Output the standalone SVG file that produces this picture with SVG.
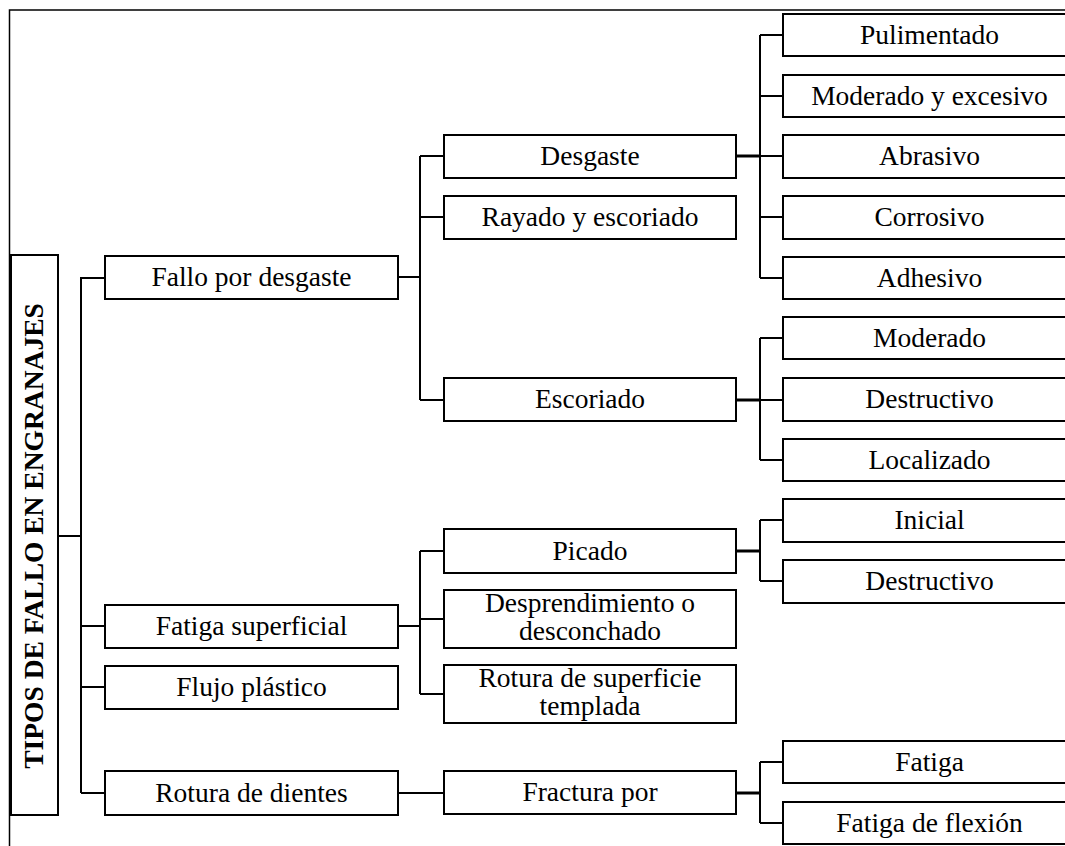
<svg xmlns="http://www.w3.org/2000/svg" width="1065" height="846" viewBox="0 0 1065 846">
  <style>
    .box { fill: #ffffff; stroke: #000000; stroke-width: 2; }
    .lbl { font-family: "Liberation Serif", "Times New Roman", serif; font-size: 27.5px; fill: #000000; text-anchor: middle; }
    .title { font-family: "Liberation Serif", "Times New Roman", serif; font-size: 27.5px; font-weight: bold; fill: #000000; text-anchor: middle; }
    .wire { fill: none; stroke: #000000; stroke-width: 2; }
    .wire-bold { fill: none; stroke: #000000; stroke-width: 3; }
    .frame { fill: none; stroke: #000000; stroke-width: 1.5; }
  </style>

  <rect width="1065" height="846" fill="#ffffff"/>

  <!-- outer frame (top and left edges) -->
  <path class="frame" d="M9.5,846 V10 H1065"/>

  <!-- connectors -->
  <g id="connectors">
    <!-- root to level 1 -->
    <path class="wire" d="M58,536 H81 M81,277 V793 M81,278 H105 M81,626 H105 M81,687 H105 M81,793 H105"/>
    <!-- Fallo por desgaste -->
    <path class="wire" d="M398,277 H420 M420,156 V400 M420,156 H444 M420,217 H444 M420,400 H444"/>
    <!-- Fatiga superficial -->
    <path class="wire" d="M398,626 H420 M420,551 V694 M420,551 H444 M420,619 H444 M420,694 H444"/>
    <!-- Rotura de dientes -->
    <path class="wire" d="M398,793 H444"/>
    <!-- Desgaste -->
    <path class="wire-bold" d="M736,156 H760"/>
    <path class="wire" d="M760,35 V278 M760,35 H783 M760,96 H783 M760,156 H783 M760,217 H783 M760,278 H783"/>
    <!-- Escoriado -->
    <path class="wire-bold" d="M736,400 H760"/>
    <path class="wire" d="M760,338 V460 M760,338 H783 M760,400 H783 M760,460 H783"/>
    <!-- Picado -->
    <path class="wire-bold" d="M736,551 H760"/>
    <path class="wire" d="M760,520 V581 M760,520 H783 M760,581 H783"/>
    <!-- Fractura por -->
    <path class="wire-bold" d="M736,793 H760"/>
    <path class="wire" d="M760,762 V823 M760,762 H783 M760,823 H783"/>
  </g>

  <!-- root -->
  <g id="n-root">
    <rect class="box" x="11" y="255" width="47" height="560"/>
    <text class="title" transform="translate(43,536) rotate(-90)">TIPOS DE FALLO EN ENGRANAJES</text>
  </g>

  <!-- level 1 -->
  <g id="n-fallo-desgaste">
    <rect class="box" x="105" y="256" width="293" height="43"/>
    <text class="lbl" x="251.5" y="286">Fallo por desgaste</text>
  </g>
  <g id="n-fatiga-superficial">
    <rect class="box" x="105" y="605" width="293" height="43"/>
    <text class="lbl" x="251.5" y="635">Fatiga superficial</text>
  </g>
  <g id="n-flujo-plastico">
    <rect class="box" x="105" y="666" width="293" height="43"/>
    <text class="lbl" x="251.5" y="696">Flujo plástico</text>
  </g>
  <g id="n-rotura-dientes">
    <rect class="box" x="105" y="771" width="293" height="44"/>
    <text class="lbl" x="251.5" y="802">Rotura de dientes</text>
  </g>

  <!-- level 2 -->
  <g id="n-desgaste">
    <rect class="box" x="444" y="135" width="292" height="43"/>
    <text class="lbl" x="590" y="165">Desgaste</text>
  </g>
  <g id="n-rayado">
    <rect class="box" x="444" y="196" width="292" height="43"/>
    <text class="lbl" x="590" y="226">Rayado y escoriado</text>
  </g>
  <g id="n-escoriado">
    <rect class="box" x="444" y="378" width="292" height="43"/>
    <text class="lbl" x="590" y="408">Escoriado</text>
  </g>
  <g id="n-picado">
    <rect class="box" x="444" y="529" width="292" height="44"/>
    <text class="lbl" x="590" y="560">Picado</text>
  </g>
  <g id="n-desprendimiento">
    <rect class="box" x="444" y="590" width="292" height="58"/>
    <text class="lbl" x="590" y="612">Desprendimiento o</text>
    <text class="lbl" x="590" y="640">desconchado</text>
  </g>
  <g id="n-rotura-superficie">
    <rect class="box" x="444" y="665" width="292" height="58"/>
    <text class="lbl" x="590" y="687">Rotura de superficie</text>
    <text class="lbl" x="590" y="715">templada</text>
  </g>
  <g id="n-fractura">
    <rect class="box" x="444" y="771" width="292" height="43"/>
    <text class="lbl" x="590" y="801">Fractura por</text>
  </g>

  <!-- level 3 -->
  <g id="n-pulimentado">
    <rect class="box" x="783" y="14" width="293" height="42"/>
    <text class="lbl" x="929.5" y="44">Pulimentado</text>
  </g>
  <g id="n-moderado-excesivo">
    <rect class="box" x="783" y="75" width="293" height="42"/>
    <text class="lbl" x="929.5" y="105">Moderado y excesivo</text>
  </g>
  <g id="n-abrasivo">
    <rect class="box" x="783" y="135" width="293" height="43"/>
    <text class="lbl" x="929.5" y="165">Abrasivo</text>
  </g>
  <g id="n-corrosivo">
    <rect class="box" x="783" y="196" width="293" height="43"/>
    <text class="lbl" x="929.5" y="226">Corrosivo</text>
  </g>
  <g id="n-adhesivo">
    <rect class="box" x="783" y="257" width="293" height="42"/>
    <text class="lbl" x="929.5" y="287">Adhesivo</text>
  </g>
  <g id="n-moderado">
    <rect class="box" x="783" y="317" width="293" height="42"/>
    <text class="lbl" x="929.5" y="347">Moderado</text>
  </g>
  <g id="n-destructivo-1">
    <rect class="box" x="783" y="378" width="293" height="43"/>
    <text class="lbl" x="929.5" y="408">Destructivo</text>
  </g>
  <g id="n-localizado">
    <rect class="box" x="783" y="439" width="293" height="42"/>
    <text class="lbl" x="929.5" y="469">Localizado</text>
  </g>
  <g id="n-inicial">
    <rect class="box" x="783" y="499" width="293" height="43"/>
    <text class="lbl" x="929.5" y="529">Inicial</text>
  </g>
  <g id="n-destructivo-2">
    <rect class="box" x="783" y="560" width="293" height="43"/>
    <text class="lbl" x="929.5" y="590">Destructivo</text>
  </g>
  <g id="n-fatiga">
    <rect class="box" x="783" y="741" width="293" height="42"/>
    <text class="lbl" x="929.5" y="771">Fatiga</text>
  </g>
  <g id="n-fatiga-flexion">
    <rect class="box" x="783" y="802" width="293" height="42"/>
    <text class="lbl" x="929.5" y="832">Fatiga de flexión</text>
  </g>
</svg>
